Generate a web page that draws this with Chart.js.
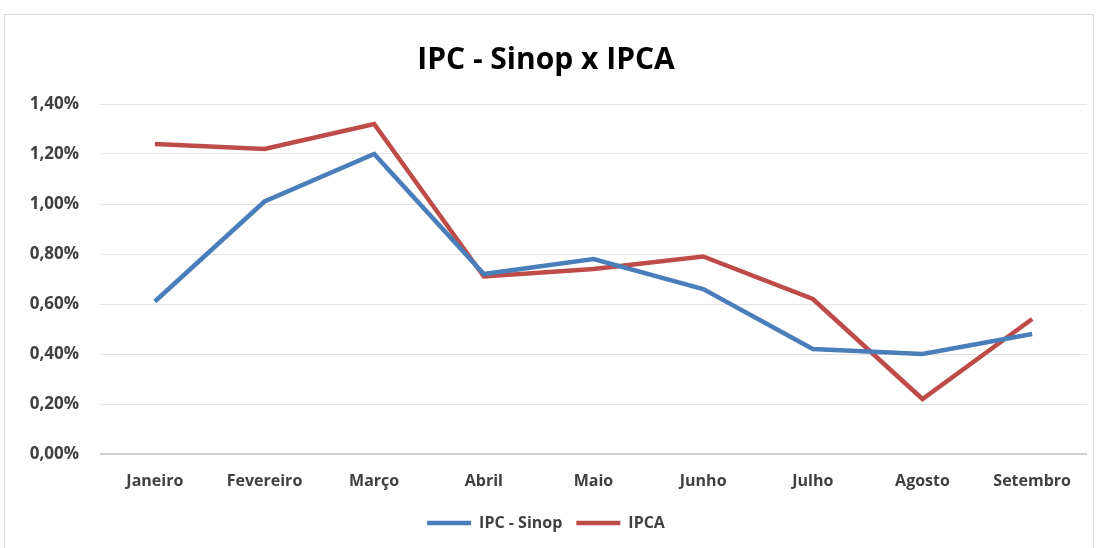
<!DOCTYPE html>
<html>
<head>
<meta charset="utf-8">
<script src="https://cdn.jsdelivr.net/npm/chart.js@4/dist/chart.umd.min.js"></script>
<style>
  body { margin: 0; background: #fff; }
  #box {
    position: absolute; left: 4px; top: 14px; width: 1090px; height: 540px;
    border: 1px solid #d9d9d9; box-sizing: border-box; background: #fff;
  }
  #box canvas { display: block; }
</style>
</head>
<body>
<div id="box"><canvas id="grafico" width="1088" height="538"></canvas></div>
<script>
// Meses e valores (%)
const meses = ['Janeiro', 'Fevereiro', 'Março', 'Abril', 'Maio', 'Junho', 'Julho', 'Agosto', 'Setembro'];
const ipcSinop = [0.61, 1.01, 1.20, 0.72, 0.78, 0.66, 0.42, 0.40, 0.48];
const ipca = [1.24, 1.22, 1.32, 0.71, 0.74, 0.79, 0.62, 0.22, 0.54];

const corTexto = '#404040';
const fonte = 'Open Sans';

const formataPct = v => v.toFixed(2).replace('.', ',') + '%';

const ctx = document.getElementById('grafico').getContext('2d');
new Chart(ctx, {
    type: 'line',
    data: {
        labels: meses,
        datasets: [
            {
                label: 'IPC - Sinop',
                data: ipcSinop,
                borderColor: '#4a7ebb',
                backgroundColor: '#4a7ebb',
                borderWidth: 4.5,
                pointRadius: 0,
                tension: 0
            },
            {
                label: 'IPCA',
                data: ipca,
                borderColor: '#be4b48',
                backgroundColor: '#be4b48',
                borderWidth: 4.5,
                pointRadius: 0,
                tension: 0
            }
        ]
    },
    options: {
        responsive: false,
        animation: false,
        layout: { padding: { left: 0, right: 6, top: 0, bottom: 12 } },
        plugins: {
            title: {
                display: true,
                text: 'IPC - Sinop x IPCA',
                color: '#000',
                font: { family: fonte, size: 30, weight: 'bold' },
                padding: { top: 27, bottom: 26 }
            },
            legend: {
                position: 'bottom',
                labels: {
                    usePointStyle: true,
                    pointStyle: 'line',
                    pointStyleWidth: 44,
                    color: corTexto,
                    font: { family: fonte, size: 16, weight: 'bold' },
                    padding: 14
                }
            },
            tooltip: { enabled: false }
        },
        scales: {
            x: {
                offset: true,
                grid: { display: false, drawTicks: false },
                border: { display: false },
                ticks: {
                    color: corTexto,
                    font: { family: fonte, size: 16, weight: 'bold' },
                    padding: 18
                },
                afterFit: scale => { scale.height = 47; }
            },
            y: {
                min: 0,
                max: 1.4,
                grid: {
                    drawTicks: false,
                    color: c => c.index === 0 ? '#cfcfcf' : '#e3e3e3',
                    lineWidth: c => c.index === 0 ? 2 : 1
                },
                border: { display: false },
                ticks: {
                    stepSize: 0.2,
                    color: corTexto,
                    font: { family: fonte, size: 17, weight: 'bold' },
                    padding: 21,
                    callback: v => formataPct(v)
                },
                afterFit: scale => { scale.width = 95; }
            }
        }
    }
});
</script>
</body>
</html>
